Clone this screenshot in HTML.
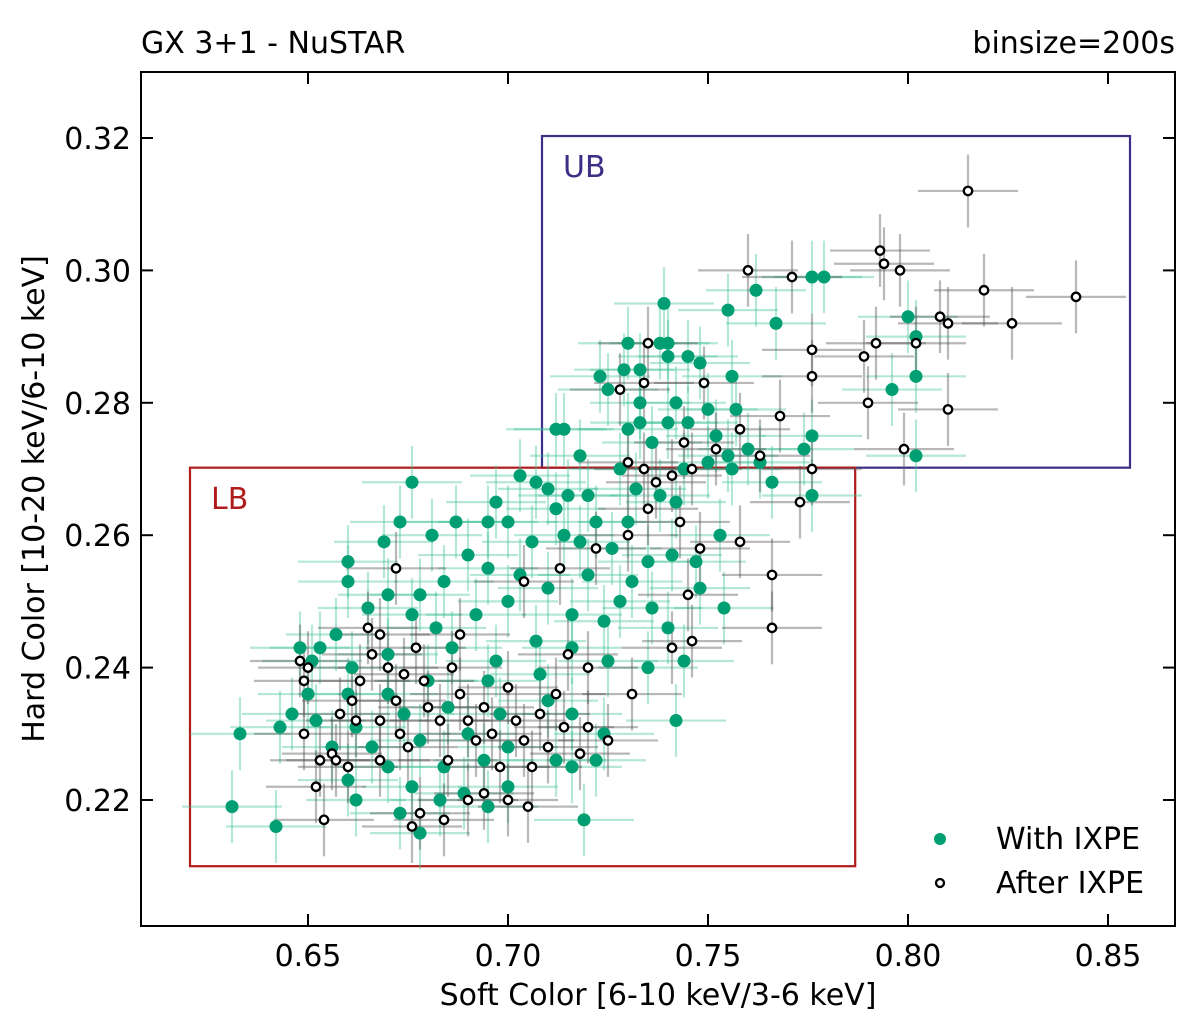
<!DOCTYPE html>
<html><head><meta charset="utf-8"><style>
html,body{margin:0;padding:0;background:#fff;}
svg{display:block;font-family:"DejaVu Sans","Liberation Sans",sans-serif;}
</style></head><body>
<svg id="chart" width="1200" height="1023" viewBox="0 0 1200 1023" xmlns="http://www.w3.org/2000/svg"></svg>
<script>
const xTicks=[0.65,0.70,0.75,0.80,0.85];
const xTickLabels=["0.65","0.70","0.75","0.80","0.85"];
const yTicks=[0.22,0.24,0.26,0.28,0.30,0.32];
const yTickLabels=["0.22","0.24","0.26","0.28","0.30","0.32"];
const withX=[0.779,0.776,0.762,0.755,0.767,0.739,0.800,0.802,0.802,0.796,0.802,0.776,0.766,0.774,0.776,0.756,0.740,0.745,0.748,0.738,0.740,0.733,0.730,0.729,0.723,0.725,0.733,0.742,0.750,0.757,0.740,0.745,0.733,0.730,0.712,0.714,0.736,0.752,0.760,0.763,0.718,0.728,0.744,0.750,0.755,0.756,0.703,0.707,0.710,0.715,0.720,0.732,0.742,0.738,0.676,0.697,0.712,0.695,0.722,0.730,0.753,0.747,0.741,0.735,0.731,0.726,0.718,0.714,0.706,0.700,0.687,0.673,0.681,0.669,0.660,0.660,0.670,0.678,0.684,0.690,0.695,0.703,0.710,0.720,0.728,0.736,0.748,0.754,0.740,0.724,0.716,0.700,0.692,0.682,0.676,0.665,0.657,0.653,0.648,0.651,0.661,0.670,0.686,0.697,0.707,0.716,0.725,0.735,0.744,0.708,0.695,0.680,0.670,0.660,0.650,0.646,0.652,0.643,0.633,0.662,0.674,0.685,0.698,0.710,0.716,0.724,0.742,0.690,0.678,0.666,0.656,0.700,0.712,0.722,0.694,0.684,0.670,0.660,0.676,0.689,0.700,0.716,0.662,0.673,0.678,0.642,0.631,0.719,0.683,0.695];
const withY=[0.299,0.299,0.297,0.294,0.292,0.295,0.293,0.290,0.284,0.282,0.272,0.266,0.268,0.273,0.275,0.284,0.289,0.287,0.286,0.289,0.287,0.285,0.289,0.285,0.284,0.282,0.280,0.280,0.279,0.279,0.277,0.277,0.277,0.276,0.276,0.276,0.274,0.275,0.273,0.271,0.272,0.270,0.270,0.271,0.272,0.270,0.269,0.268,0.267,0.266,0.266,0.267,0.265,0.266,0.268,0.265,0.264,0.262,0.262,0.262,0.260,0.256,0.257,0.256,0.253,0.258,0.259,0.260,0.259,0.262,0.262,0.262,0.260,0.259,0.256,0.253,0.251,0.251,0.253,0.257,0.255,0.254,0.252,0.254,0.250,0.249,0.252,0.249,0.246,0.247,0.248,0.250,0.248,0.246,0.248,0.249,0.245,0.243,0.243,0.241,0.240,0.242,0.243,0.241,0.244,0.243,0.241,0.240,0.241,0.239,0.238,0.238,0.236,0.236,0.236,0.233,0.232,0.231,0.230,0.231,0.233,0.234,0.233,0.235,0.233,0.230,0.232,0.230,0.229,0.228,0.228,0.228,0.226,0.226,0.226,0.225,0.225,0.223,0.222,0.221,0.222,0.225,0.220,0.218,0.215,0.216,0.219,0.217,0.220,0.219];
const afterX=[0.815,0.842,0.826,0.819,0.808,0.810,0.793,0.794,0.798,0.802,0.792,0.789,0.790,0.810,0.799,0.760,0.771,0.776,0.776,0.768,0.758,0.763,0.776,0.773,0.735,0.734,0.728,0.749,0.744,0.730,0.734,0.737,0.741,0.746,0.752,0.766,0.758,0.766,0.746,0.741,0.745,0.748,0.735,0.743,0.730,0.722,0.713,0.704,0.731,0.672,0.648,0.649,0.650,0.649,0.652,0.654,0.656,0.657,0.660,0.662,0.663,0.665,0.668,0.670,0.672,0.673,0.675,0.677,0.679,0.680,0.683,0.685,0.686,0.688,0.690,0.692,0.694,0.696,0.698,0.700,0.702,0.704,0.706,0.708,0.710,0.712,0.714,0.718,0.720,0.725,0.668,0.678,0.684,0.690,0.694,0.700,0.705,0.676,0.666,0.661,0.658,0.653,0.668,0.688,0.674,0.715,0.720];
const afterY=[0.312,0.296,0.292,0.297,0.293,0.292,0.303,0.301,0.300,0.289,0.289,0.287,0.280,0.279,0.273,0.300,0.299,0.288,0.284,0.278,0.276,0.272,0.270,0.265,0.289,0.283,0.282,0.283,0.274,0.271,0.270,0.268,0.269,0.270,0.273,0.254,0.259,0.246,0.244,0.243,0.251,0.258,0.264,0.262,0.260,0.258,0.255,0.253,0.236,0.255,0.241,0.238,0.240,0.230,0.222,0.217,0.227,0.226,0.225,0.232,0.238,0.246,0.245,0.240,0.235,0.230,0.228,0.243,0.238,0.234,0.232,0.226,0.240,0.236,0.232,0.229,0.234,0.230,0.225,0.237,0.232,0.229,0.225,0.233,0.228,0.236,0.231,0.227,0.231,0.229,0.232,0.218,0.217,0.220,0.221,0.220,0.219,0.216,0.242,0.235,0.233,0.226,0.226,0.245,0.239,0.242,0.240];
const xErr=0.0125, yErr=0.0055;
const ubBox=[0.7085,0.8555,0.2702,0.3203], lbBox=[0.6205,0.7868,0.210,0.2702];

const NS="http://www.w3.org/2000/svg";
const svg=document.getElementById('chart');
const L=141,R=1175,T=72,B=926;
const sx=v=>308+(v-0.65)*4000;
const sy=v=>800-(v-0.22)*6620;
const FS=30;
function mk(tag,attrs,parent){const e=document.createElementNS(NS,tag);for(const k in attrs)e.setAttribute(k,attrs[k]);(parent||svg).appendChild(e);return e;}
const clip=mk('clipPath',{id:'pc'});mk('rect',{x:L,y:T,width:R-L,height:B-T},clip);
const plot=mk('g',{'clip-path':'url(#pc)'});



function box(b,color,name){const r=mk('rect',{x:sx(b[0]),y:sy(b[3]),width:sx(b[1])-sx(b[0]),height:sy(b[2])-sy(b[3]),fill:'none',stroke:color,'stroke-width':2.2},plot);

}
box(ubBox,'#3a2f86','ub-region-box');
box(lbBox,'#b01c1c','lb-region-box');

function errs(xs,ys,color,op,name){const g=mk('g',{stroke:color,'stroke-opacity':op,'stroke-width':2.2},plot);


for(let i=0;i<xs.length;i++){mk('line',{x1:sx(xs[i]-xErr),x2:sx(xs[i]+xErr),y1:sy(ys[i]),y2:sy(ys[i])},g);mk('line',{x1:sx(xs[i]),x2:sx(xs[i]),y1:sy(ys[i]-yErr),y2:sy(ys[i]+yErr)},g);}}
errs(withX,withY,'#3cc196',0.38,'with-ixpe-errorbars');
errs(afterX,afterY,'#555',0.42,'after-ixpe-errorbars');
const gw=mk('g',{},plot);


for(let i=0;i<withX.length;i++){const c=mk('circle',{cx:sx(withX[i]),cy:sy(withY[i]),r:6.5,fill:'#009e73'},gw);

}
const ga=mk('g',{},plot);


for(let i=0;i<afterX.length;i++){const c=mk('circle',{cx:sx(afterX[i]),cy:sy(afterY[i]),r:4.2,fill:'#fff',stroke:'#000','stroke-width':2.3},ga);

}

const frame=mk('rect',{x:L,y:T,width:R-L,height:B-T,fill:'none',stroke:'#000','stroke-width':2});


xTicks.forEach((v,i)=>{const x=sx(v);mk('line',{x1:x,x2:x,y1:B,y2:B-12,stroke:'#000','stroke-width':2});mk('line',{x1:x,x2:x,y1:T,y2:T+12,stroke:'#000','stroke-width':2});
const t=mk('text',{x:x,y:B+40,'text-anchor':'middle','font-size':FS});t.textContent=xTickLabels[i];

});
yTicks.forEach((v,i)=>{const y=sy(v);mk('line',{x1:L,x2:L+12,y1:y,y2:y,stroke:'#000','stroke-width':2});mk('line',{x1:R,x2:R-12,y1:y,y2:y,stroke:'#000','stroke-width':2});
const t=mk('text',{x:L-10,y:y+11,'text-anchor':'end','font-size':FS});t.textContent=yTickLabels[i];

});
function txt(s,attrs,name){const t=mk('text',attrs);t.textContent=s;

return t;}
txt('Soft Color [6-10 keV/3-6 keV]',{x:658,y:1005,'text-anchor':'middle','font-size':FS},'x-axis-title');
txt('Hard Color [10-20 keV/6-10 keV]',{x:0,y:0,'text-anchor':'middle','font-size':FS,transform:'translate(44,499) rotate(-90)'},'y-axis-title');
txt('GX 3+1 - NuSTAR',{x:141,y:53,'font-size':FS},'chart-title');
txt('binsize=200s',{x:1175,y:53,'text-anchor':'end','font-size':FS},'binsize-label');
txt('UB',{x:563,y:177,'font-size':FS,fill:'#3a2f86'},'ub-label');
txt('LB',{x:211,y:509,'font-size':FS,fill:'#b01c1c'},'lb-label');
const lg=mk('g',{});


mk('circle',{cx:940,cy:839,r:6,fill:'#009e73'},lg);
mk('circle',{cx:940,cy:883,r:4,fill:'#fff',stroke:'#000','stroke-width':2.3},lg);
const l1=mk('text',{x:996,y:849,'font-size':FS},lg);l1.textContent='With IXPE';


const l2=mk('text',{x:996,y:893,'font-size':FS},lg);l2.textContent='After IXPE';


</script>
</body></html>
